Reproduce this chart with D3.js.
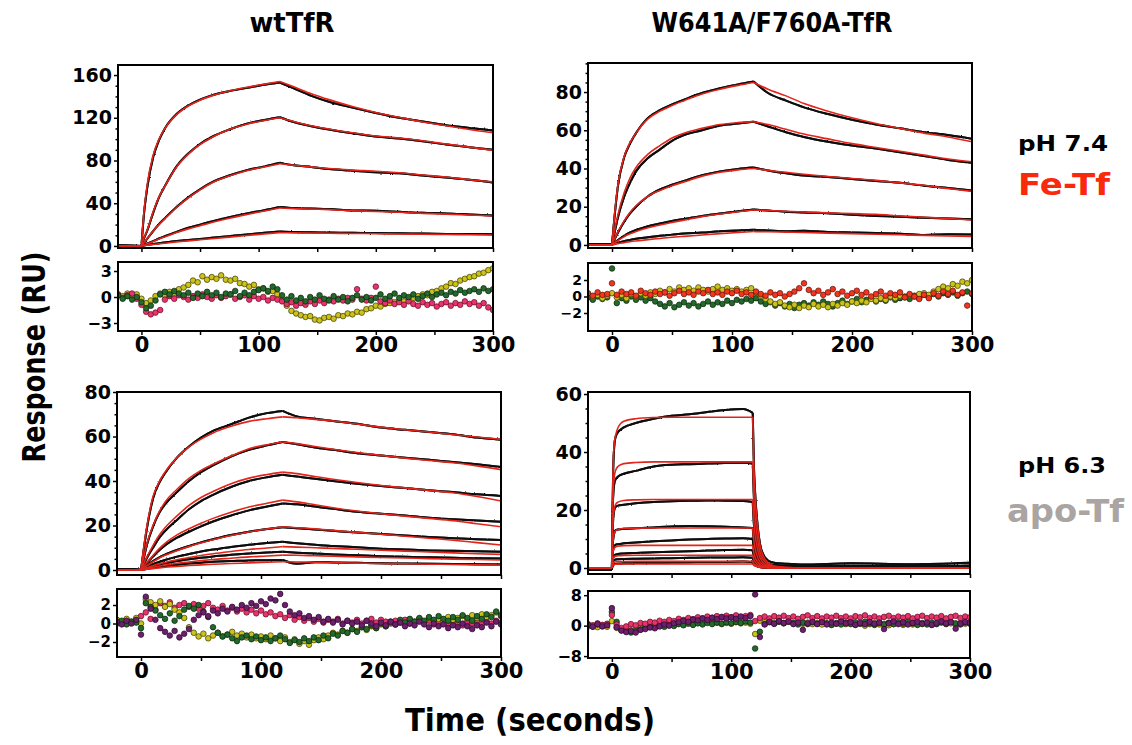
<!DOCTYPE html>
<html>
<head>
<meta charset="utf-8">
<script src="https://cdn.jsdelivr.net/npm/d3@7"></script>
<style>
  body { margin: 0; background: #fff; }
  text { font-family: "DejaVu Sans", sans-serif; font-weight: bold; }
</style>
</head>
<body>
<svg id="fig" width="1132" height="745"></svg>
<script>
// ---- sampling times (s) ----
const timeA = [-20, 0, 2, 5, 10, 15, 20, 30, 40, 50, 60, 75, 90, 105, 118, 130, 145, 160, 180, 200, 220, 240, 260, 280, 300];
const timeB = [-20, 0, 0.5, 1, 2, 3, 5, 10, 20, 35, 50, 65, 80, 95, 110, 118, 119, 120, 122, 124, 127, 131, 136, 145, 160, 200, 250, 300];
const resTime = [-20, -16, -12, -8, -4,
  0, 4, 8, 12, 16, 20, 24, 28, 32, 36, 40, 44, 48, 52, 56, 60, 64, 68, 72, 76,
  80, 84, 88, 92, 96, 100, 104, 108, 112, 116, 120, 124, 128, 132, 136, 140, 144, 148, 152, 156,
  160, 164, 168, 172, 176, 180, 184, 188, 192, 196, 200, 204, 208, 212, 216, 220, 224, 228, 232, 236,
  240, 244, 248, 252, 256, 260, 264, 268, 272, 276, 280, 284, 288, 292, 296, 300];

// ---- wtTfR, pH 7.4, Fe-Tf ----
const wt74Fit = [
  [0, 0, 30, 58, 85, 100, 110, 123, 131, 136.5, 140.5, 145, 148.5, 151.5, 154, 149, 142.5, 137, 130.5, 125, 120.5, 116, 112.5, 109, 106],
  [0, 0, 7, 15, 32, 46, 56, 74, 86, 95, 101.5, 109, 114, 117.5, 120, 116.5, 112.5, 109.5, 106, 103, 101, 98.5, 95.5, 92.5, 89.5],
  [0, 0, 2.8, 7, 14, 20, 25.5, 36, 45, 52.5, 59, 65.5, 70.5, 74, 77, 75.5, 74, 72.5, 71, 70, 68.5, 66.5, 64.5, 62, 60],
  [0, 0, 0.8, 2, 4.2, 6.5, 8.5, 12.5, 16, 19, 22, 26, 29.5, 32.8, 35.5, 35, 34.5, 34, 33, 32.3, 31.5, 30.5, 29.8, 29, 28],
  [0, 0, 0.3, 0.7, 1.4, 2, 2.6, 3.8, 4.8, 5.8, 6.8, 8.3, 9.8, 11.3, 12.5, 12.3, 12.1, 11.9, 11.7, 11.5, 11.2, 11, 10.8, 10.5, 10.3]
];
const wt74Data = [
  [0.4, 0, 28, 55, 83, 99, 110, 123.5, 131.5, 137, 141, 145, 148, 151, 153, 147.5, 140.5, 135, 129.5, 124.5, 120, 116.5, 113, 110.5, 108],
  [0.3, 0, 6.5, 14.5, 31, 45.5, 56, 74.5, 86.5, 95.5, 102, 109, 114.5, 118, 120.5, 116, 112, 109, 105.5, 102.5, 100.5, 98, 95, 92.5, 90],
  [0.2, 0, 2.5, 6.8, 14, 20.5, 26, 36.5, 45.5, 53, 59.5, 66, 71, 74.5, 78, 75.5, 74, 72, 70.5, 69, 68, 66, 64, 62, 59.5],
  [0.3, 0, 1, 2.3, 4.5, 7, 9.2, 13.2, 17, 20, 23, 27, 30.5, 33.5, 36.5, 35.5, 35, 34.5, 33.3, 33, 32, 31, 30.5, 29.5, 28.5],
  [0.2, 0, 0.5, 1, 1.8, 2.6, 3.3, 4.6, 5.6, 6.6, 7.6, 9.2, 10.8, 12.3, 13.5, 13, 12.8, 12.6, 12.3, 12.2, 11.8, 11.6, 11.3, 11.2, 11]
];
const wt74ResYellow = [0.3, 0.1, 0.4, 0.0, 0.3,
  -0.2, -0.7, -0.4, 0.1, 0.4, 0.2, 0.6, 0.5, 0.9, 1.1, 1.4, 1.9, 1.7, 2.4, 2.0, 2.3, 2.1, 2.5, 2.0, 1.9,
  2.1, 1.6, 1.5, 1.2, 1.4, 0.9, 1.0, 0.6, 0.7, 0.3, -0.4, -1.0, -1.6, -1.9, -2.1, -2.3, -2.2, -2.6, -2.7, -2.4,
  -2.3, -2.5, -2.1, -2.2, -1.9, -2.0, -1.7, -1.8, -1.4, -1.3, -1.0, -1.1, -0.8, -0.7, -0.6, -0.4, -0.5, -0.2, -0.1, 0.1,
  0.3, 0.2, 0.6, 0.7, 1.0, 1.2, 1.6, 1.5, 1.9, 2.1, 2.3, 2.4, 2.7, 2.8, 3.1, 3.3];
const wt74ResPink = [0.3, -0.1, 0.2, 0.4, -0.2,
  -0.9, -1.7, -2.0, -1.8, -1.5, -0.3, 0.1, -0.2, 0.2, 0.0, -0.3, 0.1, -0.1, 0.3, 0.0, -0.2, 0.2, -0.1, 0.1, 0.3,
  -0.2, 0.0, 0.2, -0.3, 0.1, -0.2, 0.0, -0.4, -0.1, -0.3, -0.5, -0.8, -0.6, -1.0, -0.7, -0.9, -0.5, -0.8, -0.4, -0.7,
  -0.3, -0.5, -0.2, -0.4, -0.1, -0.3, 0.9, -0.2, -0.4, -0.1, 1.2, -0.5, -0.7, -0.4, -0.8, -0.6, -0.9, -0.5, -0.8, -1.0,
  -0.6, -0.9, -0.7, -1.1, -0.8, -0.6, -1.0, -0.7, -0.9, -0.5, -0.8, -0.6, -1.0, -0.7, -1.2, -1.5];
const wt74ResGreen = [0.2, -0.2, 0.1, -0.3, 0.0,
  -0.6, -1.3, -1.0, -0.4, 0.3, 0.6, 0.3, 0.7, 0.4, 0.2, 0.5, -0.1, 0.4, 0.1, 0.6, 0.2, 0.5, 0.0, 0.4, 0.3,
  0.7, 0.1, 0.5, 0.2, 0.6, 0.8, 1.0, 0.7, 1.2, 0.9, 0.2, -0.3, 0.1, -0.4, -0.1, -0.5, 0.0, -0.3, 0.2, -0.2,
  -0.4, 0.1, -0.3, 0.0, -0.5, -0.1, 0.2, -0.3, 0.0, -0.4, -0.1, 0.3, -0.2, 0.1, 0.4, -0.1, 0.2, 0.0, 0.3, -0.2,
  0.1, 0.4, 0.0, 0.3, 0.5, 0.2, 0.6, 0.4, 0.8, 0.5, 0.7, 0.9, 0.6, 1.0, 0.7, 0.9];

// ---- W641A/F760A-TfR, pH 7.4, Fe-Tf ----
const mut74Fit = [
  [0, 0, 15, 32, 46, 53.5, 58.5, 66, 70, 73, 75.5, 79, 81.5, 83.5, 85, 81.5, 78, 74, 70, 66.5, 63.5, 61, 58.5, 56.5, 54],
  [0, 0, 7, 16, 27, 35, 40.5, 47.5, 52, 56, 58.5, 61, 63, 64, 64.5, 63, 60.5, 58, 55.5, 53, 51, 49, 47, 45, 43.5],
  [0, 0, 3, 7, 12.5, 17, 20.5, 25.5, 28.5, 31, 33, 36, 38, 39.3, 40, 39, 38, 37, 35.8, 34.8, 33.8, 32.5, 31.2, 29.5, 28],
  [0, 0, 1, 2.3, 4.3, 5.8, 7, 9, 10.5, 11.8, 13, 14.8, 16.2, 17.4, 18.3, 18, 17.6, 17.2, 16.8, 16.4, 16, 15.2, 14.5, 13.8, 13],
  [0, 0, 0.3, 0.7, 1.2, 1.7, 2.1, 2.8, 3.4, 4, 4.5, 5.2, 5.9, 6.5, 7, 6.9, 6.7, 6.5, 6.2, 5.9, 5.6, 5.3, 5, 4.7, 4.4]
];
const mut74Data = [
  [0.5, 0.3, 14, 31, 45.5, 53, 58.5, 66.5, 70.5, 73.5, 76, 79.5, 82, 84, 85.5, 79.5, 75.5, 72, 68.5, 65.5, 63, 61, 59, 57.5, 55.5],
  [0.4, 0.3, 6, 14.5, 25, 32.5, 38.5, 45.5, 50, 54.5, 57.5, 60, 62.5, 63.5, 64.5, 62, 59, 56.5, 54, 52, 50.5, 48.5, 46.5, 44.5, 43],
  [0.3, 0.2, 2.8, 6.5, 12, 16.5, 20, 25.5, 29, 31.5, 33.5, 36.5, 38.5, 39.8, 40.5, 39, 37.5, 36.3, 35.5, 34.5, 33.5, 32.5, 31, 29.8, 28.5],
  [0.3, 0.2, 1.2, 2.6, 4.8, 6.5, 7.8, 9.8, 11.2, 12.5, 13.6, 15.2, 16.5, 17.6, 18.5, 18, 17.4, 17, 16.6, 15.8, 15.2, 14.8, 14.2, 13.8, 13.5],
  [0.3, 0.2, 0.6, 1.2, 2, 2.6, 3.2, 4, 4.8, 5.4, 6, 6.5, 7.2, 7.6, 8, 7.5, 7.2, 7.4, 6.8, 6.5, 6.2, 5.9, 5.2, 5.6, 5.5]
];
const mut74ResYellow = [0.3, 0.0, 0.2, -0.2, 0.1,
  0.4, -0.1, 0.2, -0.2, 0.3, 0.0, 0.4, 0.1, 0.5, 0.3, 0.7, 0.5, 0.9, 0.6, 1.1, 0.8, 1.0, 0.7, 1.1, 0.8,
  0.6, 0.9, 1.2, 0.8, 1.0, 0.7, 0.9, 0.6, 0.8, 1.0, 0.5, 0.1, -0.3, -0.6, -0.9, -0.7, -1.1, -1.3, -1.0, -1.4,
  -1.1, -1.3, -0.9, -1.2, -1.0, -1.3, -0.9, -1.1, -0.8, -1.0, -0.6, -0.8, -0.5, -0.7, -0.3, -0.5, -0.2, -0.4, 0.0, -0.2,
  0.1, -0.1, 0.2, 0.0, 0.3, 0.4, 0.2, 0.6, 0.9, 1.2, 1.0, 1.5, 1.3, 1.8, 1.6, 2.0];
const mut74ResGreen = [-0.1, -0.4, 0.0, -0.3, -0.1,
  3.4, -0.8, -0.2, -0.5, 0.0, -0.4, -0.1, -0.5, -0.2, -0.6, -0.9, -1.2, -0.8, -1.3, -1.0, -0.7, -1.1, -0.8, -1.2, -0.9,
  -0.6, -1.0, -0.7, -0.9, -0.5, -0.8, -0.4, -0.6, -0.3, -0.5, -0.2, -0.6, -0.9, -0.7, -1.1, -0.8, -1.2, -0.9, -1.4, -1.0,
  -0.8, -1.1, -0.7, -1.0, -0.6, -0.9, -1.2, -0.8, -0.5, -0.9, -0.6, -0.3, -0.7, -0.4, -0.2, -0.6, -0.3, -0.5, -0.1, -0.4,
  -0.2, 0.0, -0.3, 0.1, -0.2, 0.2, -0.1, 0.3, 0.0, 0.4, 0.2, 0.5, 0.1, 0.4, 0.6, 0.3];
const mut74ResRed = [0.4, 0.1, 0.5, 0.2, 0.3,
  1.6, 0.2, 0.6, 0.3, 0.5, 0.1, 0.7, 0.4, 0.2, 0.6, 0.3, 0.5, 0.1, 0.4, 0.7, 0.3, 0.5, 0.2, 0.6, 0.4,
  0.8, 0.3, 0.5, 0.2, 0.6, 0.4, 0.7, 0.3, 0.5, 0.2, 0.6, 0.3, 0.1, 0.5, 0.2, 0.4, 0.0, 0.3, 0.6, 1.0,
  1.6, 0.8, 0.4, 0.7, 0.2, 0.5, 0.9, 0.3, 0.6, 0.1, 0.4, 0.7, 0.2, 0.5, 0.0, 0.3, 0.6, 0.1, 0.4, 0.2,
  0.5, -0.1, 0.3, 0.0, -0.3, 0.2, -0.2, 0.4, 0.1, 0.6, 0.3, 0.7, 0.2, 0.5, -1.1, 0.4];

// ---- wtTfR, pH 6.3, apo-Tf ----
const wt63Fit = [
  [0, 0, 9, 20, 33, 39.5, 44, 50.5, 55.3, 58.8, 61.6, 64.6, 66.8, 68, 68.8, 68.4, 67.7, 67, 65.6, 64.2, 63, 62, 60.9, 59.8, 58.7],
  [0, 0, 5, 12, 20, 26, 30.5, 36.3, 41.2, 44.8, 47.5, 51.2, 54.5, 56.3, 57.5, 56.8, 55.5, 54.3, 52.8, 51.5, 50.3, 49.2, 48.2, 46.8, 45.1],
  [0, 0, 2.5, 6, 11, 15.5, 19, 24.3, 29, 32.6, 35.3, 38.8, 41.3, 42.9, 44, 43.3, 42, 40.8, 39.3, 38, 36.9, 35.8, 34.7, 33, 31],
  [0, 0, 1.4, 3.4, 6.5, 9.5, 12, 15.8, 18.5, 21, 23.2, 26, 28.3, 30, 31.4, 30.6, 29.3, 28, 26.5, 25.3, 24.2, 23.2, 22.2, 20.8, 19.4],
  [0, 0, 0.8, 2, 3.7, 5.3, 6.6, 8.7, 10.5, 12.1, 13.6, 15.5, 17.1, 18.4, 19.4, 19, 18.5, 17.8, 16.9, 16.1, 15.2, 14.3, 13.4, 12.3, 11.2],
  [0, 0, 0.4, 1, 1.9, 2.7, 3.4, 4.6, 5.6, 6.5, 7.3, 8.3, 9.2, 9.9, 10.5, 10.3, 10, 9.7, 9.3, 8.9, 8.5, 8.1, 7.7, 7.3, 7],
  [0, 0, 0.25, 0.6, 1.2, 1.7, 2.2, 3, 3.6, 4.2, 4.7, 5.3, 5.9, 6.3, 6.7, 6.6, 6.4, 6.2, 5.9, 5.6, 5.4, 5.1, 4.9, 4.7, 4.5],
  [0, 0, 0.1, 0.3, 0.6, 0.9, 1.2, 1.6, 2, 2.3, 2.6, 2.9, 3.2, 3.5, 3.7, 3.6, 3.5, 3.3, 3.1, 2.9, 2.8, 2.6, 2.5, 2.3, 2.2]
];
const wt63Data = [
  [0.4, 0, 8, 19, 32, 39, 43.5, 50.5, 55.5, 59.5, 62.5, 65.5, 68.5, 70.5, 71.5, 69, 68, 67, 65.7, 64, 63, 62, 61, 59.5, 58.5],
  [0.4, 0, 4.5, 11.5, 19.5, 25.5, 29.5, 35, 40, 44, 47, 51, 54, 56, 57.5, 56.5, 55, 54, 52.5, 51.5, 50.5, 49.5, 48.5, 47.5, 46.3],
  [0.4, 0, 2.2, 5.5, 10, 14.3, 17.5, 22.5, 27.3, 31, 33.8, 37.3, 40, 41.7, 42.8, 42, 41, 40, 38.8, 37.7, 36.8, 35.8, 35, 34, 33.3],
  [0.4, 0, 1.3, 3.2, 6, 8.7, 11, 14.5, 17.2, 19.6, 21.8, 24.5, 26.8, 28.5, 29.9, 29.5, 28.5, 27.5, 26.2, 25.3, 24.5, 23.5, 22.8, 22.2, 21.7],
  [0.4, 0, 0.9, 2.2, 4, 5.6, 6.9, 9, 10.8, 12.4, 13.8, 15.7, 17.2, 18.4, 19.2, 18.8, 18.2, 17.6, 16.8, 16.2, 15.5, 14.8, 14.3, 13.8, 13.5],
  [0.4, 0, 0.6, 1.4, 2.6, 3.6, 4.5, 6, 7.2, 8.3, 9.2, 10.3, 11.3, 12.1, 12.7, 12, 11.3, 10.8, 10.2, 9.6, 9.2, 8.8, 8.6, 8.4, 8.2],
  [0.4, 0, 0.4, 0.9, 1.7, 2.4, 3, 4, 4.8, 5.5, 6.1, 6.8, 7.4, 7.9, 8.2, 7.8, 7.4, 7, 6.6, 6.2, 5.9, 5.7, 5.5, 5.3, 5.2],
  [0.4, 0, 0.2, 0.5, 1, 1.4, 1.8, 2.4, 2.9, 3.3, 3.7, 4, 4.3, 4.4, 4.5, 2.8, 3.5, 3.4, 3.2, 3, 2.9, 2.8, 2.7, 2.6, 2.5]
];
const wt63ResPurple = [0.2, -0.1, 0.3, 0.0, 0.4,
  -1.2, 2.9, 1.6, 0.4, -0.5, -0.9, -1.3, -0.8, -1.5, -1.1, -0.6, 0.4, 0.9, 1.2, 0.8, 1.4, 1.1, 1.6, 1.3, 1.8,
  1.5, 2.0, 1.7, 2.2, 1.9, 2.4, 2.1, 2.7, 2.5, 3.2, 2.0, 1.3, 0.9, 1.1, 0.6, 0.8, 0.4, 0.7, 0.2, 0.5,
  0.1, 0.4, -0.1, 0.3, 0.0, 0.2, -0.2, 0.3, 0.0, -0.3, 0.1, -0.2, 0.2, -0.1, 0.1, -0.3, 0.0, -0.2, 0.2, -0.1,
  -0.4, 0.0, -0.3, -0.1, -0.5, -0.2, -0.4, 0.0, -0.3, -0.6, -0.2, -0.4, 0.1, -0.3, 0.2, -0.1];
const wt63ResYellow = [0.4, 0.1, 0.5, 0.2, 0.6,
  0.0, 2.6, 2.3, 2.0, 2.4, 1.8, 2.1, 1.5, 1.2, 0.6, -0.4, -1.0, -1.4, -1.1, -1.6, -1.3, -1.0, -1.4, -1.2, -0.9,
  -1.3, -1.1, -1.5, -1.2, -1.6, -1.4, -1.7, -1.3, -1.6, -1.9, -1.5, -2.0, -1.7, -2.2, -1.9, -2.3, -1.8, -1.5, -1.7, -1.3,
  -1.0, -1.2, -0.8, -1.0, -0.6, -0.8, -0.4, -0.7, -0.3, -0.5, -0.1, -0.3, 0.1, -0.1, 0.3, 0.0, 0.4, 0.1, 0.5, 0.2,
  0.6, 0.3, 0.5, 0.2, 0.7, 0.4, 0.6, 0.8, 0.5, 0.9, 0.6, 1.0, 0.7, 0.9, 1.2, 0.8];
const wt63ResGreen = [0.0, 0.3, -0.1, 0.2, 0.1,
  -0.5, 2.2, 1.8, 1.4, 0.9, 0.5, 1.1, 0.3, 0.8, 1.5, 1.9, 1.6, 2.0, 1.3, 0.7, -0.4, -1.0, -1.4, -1.2, -1.6,
  -1.9, -1.5, -1.3, -1.7, -1.4, -1.8, -1.5, -1.9, -1.6, -1.3, -1.7, -2.1, -1.8, -2.0, -1.6, -1.9, -1.5, -1.8, -1.3, -1.6,
  -1.1, -1.3, -0.8, -1.0, -0.6, -0.9, -0.4, -0.6, -0.2, -0.5, 0.0, -0.3, 0.2, -0.1, 0.4, 0.1, 0.5, 0.2, 0.6, 0.3,
  0.7, 0.4, 0.8, 0.5, 0.3, 0.7, 0.4, 0.9, 0.6, 0.3, 0.8, 0.5, 1.0, 0.7, 1.3, 0.9];
const wt63ResPink = [0.3, 0.0, 0.4, 0.1, 0.3,
  0.8, 1.2, 0.5, 1.5, 2.2, 1.9, 2.3, 1.7, 2.0, 2.2, 1.8, 2.1, 1.6, 1.9, 2.2, 1.7, 1.5, 1.9, 1.4, 1.7,
  1.3, 1.6, 1.2, 1.5, 1.1, 1.4, 1.0, 1.2, 0.8, 1.0, 0.6, 0.9, 0.4, 0.7, 0.3, 0.6, 0.2, 0.5, 0.1, 0.4,
  0.2, 0.5, 0.0, 0.3, 0.1, 0.4, 0.0, 0.3, 0.5, 0.1, 0.4, 0.2, 0.0, 0.3, 0.1, 0.4, 0.0, 0.2, 0.5, 0.1,
  0.3, -0.1, 0.2, 0.4, 0.0, 0.3, 0.1, -0.2, 0.2, 0.0, 0.3, -0.1, 0.2, 0.0, 0.3, 0.1];

// ---- W641A/F760A-TfR, pH 6.3, apo-Tf ----
const mut63Fit = [
  [0, 0, 20, 34, 43, 45.5, 48.3, 50.6, 51.5, 51.9, 52, 52, 52, 52, 52, 52, 34, 25, 14.5, 8, 4, 1.8, 0.7, 0.2, 0, 0, 0, 0],
  [0, 0, 15, 26, 31.5, 33.5, 35, 36, 36.4, 36.6, 36.6, 36.6, 36.6, 36.6, 36.6, 36.6, 24, 17.5, 10, 5.6, 2.8, 1.3, 0.5, 0.15, 0, 0, 0, 0],
  [0, 0, 10, 17, 20.5, 21.8, 22.7, 23.3, 23.5, 23.6, 23.6, 23.6, 23.6, 23.6, 23.6, 23.6, 15.5, 11.3, 6.5, 3.6, 1.8, 0.8, 0.3, 0.1, 0, 0, 0, 0],
  [0, 0, 6, 10, 12, 12.8, 13.3, 13.6, 13.75, 13.8, 13.8, 13.8, 13.8, 13.8, 13.8, 13.8, 9, 6.6, 3.8, 2.1, 1.1, 0.5, 0.2, 0.05, 0, 0, 0, 0],
  [0, 0, 3.3, 5.6, 6.8, 7.2, 7.5, 7.7, 7.8, 7.8, 7.8, 7.8, 7.8, 7.8, 7.8, 7.8, 5.1, 3.7, 2.2, 1.2, 0.6, 0.3, 0.1, 0, 0, 0, 0, 0],
  [0, 0, 1.9, 3.2, 3.8, 4.1, 4.2, 4.35, 4.4, 4.4, 4.4, 4.4, 4.4, 4.4, 4.4, 4.4, 2.9, 2.1, 1.2, 0.7, 0.35, 0.15, 0.05, 0, 0, 0, 0, 0],
  [0, 0, 1, 1.7, 2, 2.1, 2.2, 2.25, 2.3, 2.3, 2.3, 2.3, 2.3, 2.3, 2.3, 2.3, 1.5, 1.1, 0.65, 0.35, 0.18, 0.08, 0.03, 0, 0, 0, 0, 0],
  [0, 0, 0.6, 1, 1.2, 1.3, 1.35, 1.38, 1.4, 1.4, 1.4, 1.4, 1.4, 1.4, 1.4, 1.4, 0.9, 0.65, 0.4, 0.2, 0.1, 0.05, 0, 0, 0, 0, 0, 0]
];
const mut63Data = [
  [-0.6, -0.5, 18, 32, 42, 45, 46.8, 48.5, 50, 51.5, 52.5, 53, 53.8, 54.5, 54.8, 53.5, 35, 26, 15, 8.5, 4.5, 2.5, 1.8, 1.5, 1.2, 1.6, 1.3, 1.8],
  [-0.5, -0.5, 14, 24, 29, 30.5, 31.5, 32.5, 33.5, 35, 35.6, 35.8, 36, 36.2, 36.3, 36, 24, 17.5, 10.2, 5.8, 3, 1.6, 1, 0.8, 0.6, 0.8, 0.6, 0.9],
  [-0.5, -0.5, 9, 16, 20, 21, 21.5, 21.8, 22.3, 22.8, 23, 23.2, 23.3, 23.2, 23.1, 22.8, 15, 11, 6.3, 3.5, 1.9, 1, 0.6, 0.5, 0.4, 0.6, 0.5, 0.7],
  [-0.5, -0.5, 5.5, 9.5, 12, 13, 13.3, 13.5, 13.7, 14, 14.3, 14.5, 14.4, 14.2, 14, 13.8, 9, 6.6, 3.8, 2.1, 1.1, 0.6, 0.4, 0.3, 0.3, 0.5, 0.4, 0.6],
  [-0.5, -0.5, 3.5, 6, 7.5, 8, 8.2, 8.5, 8.8, 9.2, 9.5, 9.8, 10, 10.2, 10.3, 10, 6.5, 4.7, 2.7, 1.5, 0.8, 0.4, 0.3, 0.2, 0.2, 0.4, 0.3, 0.5],
  [-0.5, -0.5, 2, 3.5, 4.3, 4.6, 4.8, 5, 5.2, 5.4, 5.6, 5.8, 6, 6.2, 6.3, 6.1, 4, 2.9, 1.7, 0.9, 0.5, 0.3, 0.2, 0.1, 0.1, 0.3, 0.2, 0.4],
  [-0.5, -0.5, 1.3, 2.2, 2.7, 2.9, 3, 3.1, 3.2, 3.3, 3.4, 3.5, 3.6, 3.6, 3.7, 3.5, 2.3, 1.7, 1, 0.5, 0.3, 0.1, 0.1, 0, 0, 0.2, 0.1, 0.3],
  [-0.5, -0.5, 0.6, 1, 1.3, 1.4, 1.5, 1.6, 1.7, 1.8, 1.9, 2, 2.1, 2.1, 2.2, 2, 1.3, 1, 0.6, 0.3, 0.1, 0, 0, 0, 0, 0.1, 0, 0.2]
];
const mut63ResPink = [0.4, 0.0, 0.6, 0.2, 0.5,
  2.8, 0.3, -0.6, -0.2, 0.4, 0.1, 0.7, 0.5, 1.0, 0.8, 1.3, 1.0, 1.5, 1.2, 1.8, 1.5, 2.0, 1.7, 2.2, 1.9,
  2.4, 2.0, 2.5, 2.1, 2.6, 2.2, 2.7, 2.3, 2.5, 2.8, 1.2, 2.0, 2.4, 1.9, 2.5, 2.1, 2.6, 2.0, 2.4, 1.8,
  2.3, 2.7, 2.0, 2.5, 1.9, 2.4, 2.1, 2.6, 2.0, 2.4, 1.9, 2.5, 2.2, 2.7, 2.0, 2.4, 1.9, 2.3, 2.6, 2.0,
  2.4, 2.1, 2.5, 1.9, 2.3, 2.6, 2.0, 2.4, 2.1, 2.5, 1.9, 2.3, 2.6, 2.0, 2.4, 2.2];
const mut63ResYellow = [-0.2, 0.1, -0.4, 0.0, -0.3,
  1.2, -0.6, -1.1, -0.8, -1.2, -0.9, -0.5, -0.2, 0.1, -0.1, 0.3, 0.0, 0.4, 0.2, 0.6, 0.3, 0.7, 0.4, 0.8, 0.5,
  0.9, 0.6, 0.8, 0.4, 0.7, 0.5, 0.9, 0.6, 0.8, 0.5, -2.2, 1.3, 0.9, 1.2, 0.8, 1.1, 0.7, 1.0, 0.6, 0.9,
  0.5, 0.8, 0.4, 0.7, 0.3, 0.6, 0.2, 0.5, 0.8, 0.4, 0.6, 0.2, 0.5, 0.0, 0.4, 0.7, 0.3, 0.5, 0.1, 0.4,
  0.6, 0.2, 0.5, 0.3, 0.7, 0.4, 0.6, 0.2, 0.5, 0.8, 0.4, 0.6, 0.3, 0.7, 0.5, 0.8];
const mut63ResGreen = [0.1, -0.2, 0.3, -0.1, 0.2,
  3.6, 1.0, -1.2, -1.5, -1.8, -1.4, -1.0, -0.6, -0.3, -0.5, 0.0, -0.3, 0.2, -0.1, 0.4, 0.1, 0.5, 0.2, 0.6, 0.3,
  0.7, 0.4, 0.8, 0.5, 0.9, 0.6, 1.0, 0.7, 1.1, 0.8, -6.0, -1.6, 0.4, 0.9, 0.5, 1.0, 0.6, 1.1, 0.7, 0.3,
  0.8, 0.4, 0.9, 0.5, 1.0, 0.6, 0.2, 0.7, 0.3, 0.8, 0.4, 0.9, 0.5, 1.0, 0.6, 0.2, 0.7, 0.3, 0.8, 0.4,
  0.9, 0.5, 1.0, 0.6, 0.2, 0.7, 0.3, 0.8, 0.4, 0.9, 0.5, 1.0, 0.6, 0.3, 0.8, 0.5];
const mut63ResPurple = [0.2, -0.3, 0.4, -0.2, 0.1,
  4.6, -0.4, -1.3, -1.7, -1.4, -1.8, -1.1, -0.9, -0.5, -0.7, -0.2, 0.3, 0.0, 0.6, 0.9, 1.3, 1.0, 1.6, 1.4, 1.9,
  1.5, 2.1, 1.7, 2.3, 1.9, 2.2, 1.8, 2.4, 2.0, 2.5, 8.2, -3.0, 0.3, 1.0, 0.5, 1.2, 0.7, 1.1, 0.4, 0.8,
  -1.1, 0.6, 1.0, 0.4, 0.9, 0.3, 0.8, 0.5, 1.1, 0.6, 0.9, 0.2, 0.7, 0.4, 1.0, 0.5, 0.8, -0.9, 0.6, 1.1,
  0.4, 0.9, 0.3, 0.7, 1.0, 0.5, 0.8, 0.2, 0.7, 1.1, 0.6, 0.9, -0.8, 0.5, 1.0, 0.7];

// ---- tick labels ----
const xTickValues = [0, 50, 100, 150, 200, 250, 300];
const xLabelValues = [0, 100, 200, 300];

// ---- styles ----
const dotColors = {
  yellow: ['#cbc21a', '#3b3800'],
  green:  ['#23692c', '#0a240c'],
  pink:   ['#e8336c', '#5a0f22'],
  red:    ['#f2351e', '#5a1208'],
  purple: ['#6c1f6c', '#2a082a']
};
const FIT_RED = '#e3241b';

const panels = [
  { x0: 118, x1: 493, top: 65, bottom: 248, yDomain: [-1.9, 169.4], yTicks: [0, 40, 80, 120, 160], minorStep: 10,
    times: timeA, fit: wt74Fit, data: wt74Data,
    res: { top: 262, bottom: 331, domain: [-3.92, 4.04], ticks: [-3, 0, 3], font: 16,
      series: [['yellow', wt74ResYellow], ['pink', wt74ResPink], ['green', wt74ResGreen]] } },
  { x0: 588, x1: 972, top: 63, bottom: 248, yDomain: [-1.6, 95.2], yTicks: [0, 20, 40, 60, 80], minorStep: 5,
    times: timeA, fit: mut74Fit, data: mut74Data,
    res: { top: 263, bottom: 331, domain: [-4.18, 4.06], ticks: [-2, 0, 2], font: 14,
      series: [['green', mut74ResGreen], ['yellow', mut74ResYellow], ['red', mut74ResRed]] } },
  { x0: 117, x1: 501, top: 392, bottom: 575, yDomain: [-2.25, 80], yTicks: [0, 20, 40, 60, 80], minorStep: 5,
    times: timeA, fit: wt63Fit, data: wt63Data,
    res: { top: 589, bottom: 657, domain: [-3.62, 3.73], ticks: [-2, 0, 2], font: 15,
      series: [['pink', wt63ResPink], ['yellow', wt63ResYellow], ['green', wt63ResGreen], ['purple', wt63ResPurple]] } },
  { x0: 588, x1: 970, top: 392, bottom: 574, yDomain: [-2.07, 60.7], yTicks: [0, 20, 40, 60], minorStep: 5,
    times: timeB, fit: mut63Fit, data: mut63Data,
    res: { top: 591, bottom: 658, domain: [-8.5, 9.1], ticks: [-8, 0, 8], font: 16,
      series: [['yellow', mut63ResYellow], ['green', mut63ResGreen], ['pink', mut63ResPink], ['purple', mut63ResPurple]] } }
];
const phaseBreaks = [0, 118];

const svg = d3.select('#fig');
const defs = svg.append('defs');

// slight roughness on the recorded traces
const rough = defs.append('filter').attr('id', 'rough')
  .attr('filterUnits', 'userSpaceOnUse').attr('x', 0).attr('y', 0).attr('width', 1132).attr('height', 745);
rough.append('feTurbulence').attr('type', 'fractalNoise').attr('baseFrequency', 0.7)
  .attr('numOctaves', 1).attr('seed', 7).attr('result', 'noise');
rough.append('feDisplacementMap').attr('in', 'SourceGraphic').attr('in2', 'noise')
  .attr('scale', 2.2).attr('xChannelSelector', 'R').attr('yChannelSelector', 'G');

function styleAxis(g, size) {
  g.select('.domain').remove();
  g.selectAll('line').attr('stroke', '#000').attr('stroke-width', 1.5);
  g.selectAll('text').attr('fill', '#000').attr('font-size', size)
    .attr('font-family', '"DejaVu Sans", sans-serif').attr('font-weight', 'bold');
}

function splitPhases(times, vals) {
  const pts = times.map((t, i) => [t, vals[i]]);
  const cuts = [times[0], ...phaseBreaks, times[times.length - 1]];
  const segs = [];
  for (let k = 0; k < cuts.length - 1; k++) {
    segs.push(pts.filter(p => p[0] >= cuts[k] && p[0] <= cuts[k + 1]));
  }
  return segs;
}

panels.forEach((p, idx) => {
  const x = d3.scaleLinear().domain([-20, 300]).range([p.x0, p.x1]);
  const y = d3.scaleLinear().domain(p.yDomain).range([p.bottom, p.top]);

  // ---- sensorgram ----
  const clipId = 'clip' + idx;
  defs.append('clipPath').attr('id', clipId).append('rect')
    .attr('x', p.x0).attr('y', p.top).attr('width', p.x1 - p.x0).attr('height', p.bottom - p.top);

  const plot = svg.append('g').attr('clip-path', `url(#${clipId})`);
  const line = d3.line().x(d => x(d[0])).y(d => y(d[1])).curve(d3.curveMonotoneX);

  const traces = plot.append('g');
  const fuzz = plot.append('g').attr('filter', 'url(#rough)');
  p.data.forEach(vals => {
    splitPhases(p.times, vals).forEach(seg => {
      traces.append('path').attr('d', line(seg)).attr('fill', 'none')
        .attr('stroke', '#111').attr('stroke-width', 2).attr('stroke-linejoin', 'round');
      fuzz.append('path').attr('d', line(seg)).attr('fill', 'none')
        .attr('stroke', '#111').attr('stroke-width', 2).attr('stroke-linejoin', 'round');
    });
  });
  const fits = plot.append('g');
  p.fit.forEach(vals => {
    splitPhases(p.times, vals).forEach(seg => {
      fits.append('path').attr('d', line(seg)).attr('fill', 'none')
        .attr('stroke', FIT_RED).attr('stroke-width', 1.6).attr('stroke-linejoin', 'round');
    });
  });

  svg.append('rect').attr('x', p.x0).attr('y', p.top).attr('width', p.x1 - p.x0).attr('height', p.bottom - p.top)
    .attr('fill', 'none').attr('stroke', '#000').attr('stroke-width', 2);

  const minor = d3.range(0, p.yDomain[1], p.minorStep).filter(v => !p.yTicks.includes(v));
  svg.append('g').attr('transform', `translate(${p.x0},0)`)
    .call(d3.axisLeft(y).tickValues(minor).tickSize(2.5).tickFormat(''))
    .call(g => styleAxis(g, 19));
  svg.append('g').attr('transform', `translate(${p.x0},0)`)
    .call(d3.axisLeft(y).tickValues(p.yTicks).tickSize(4).tickPadding(2))
    .call(g => styleAxis(g, 19));
  svg.append('g').attr('transform', `translate(0,${p.bottom})`)
    .call(d3.axisBottom(x).tickValues(xTickValues).tickSize(4).tickFormat(''))
    .call(g => styleAxis(g, 21));

  // ---- residuals ----
  const r = p.res;
  const yr = d3.scaleLinear().domain(r.domain).range([r.bottom, r.top]);
  const rClip = 'rclip' + idx;
  defs.append('clipPath').attr('id', rClip).append('rect')
    .attr('x', p.x0).attr('y', r.top).attr('width', p.x1 - p.x0).attr('height', r.bottom - r.top);
  const rg = svg.append('g').attr('clip-path', `url(#${rClip})`);
  r.series.forEach(([name, vals]) => {
    const [fill, stroke] = dotColors[name];
    rg.append('g').selectAll('circle').data(vals).join('circle')
      .attr('cx', (d, i) => x(resTime[i])).attr('cy', d => yr(d)).attr('r', 2.8)
      .attr('fill', fill).attr('stroke', stroke).attr('stroke-width', 0.7);
  });
  svg.append('rect').attr('x', p.x0).attr('y', r.top).attr('width', p.x1 - p.x0).attr('height', r.bottom - r.top)
    .attr('fill', 'none').attr('stroke', '#000').attr('stroke-width', 2);
  svg.append('g').attr('transform', `translate(${p.x0},0)`)
    .call(d3.axisLeft(yr).tickValues(r.ticks).tickSize(4).tickPadding(2))
    .call(g => styleAxis(g, r.font));
  svg.append('g').attr('transform', `translate(0,${r.bottom})`)
    .call(d3.axisBottom(x).tickValues(xTickValues).tickSize(4).tickPadding(2)
      .tickFormat(d => xLabelValues.includes(d) ? d : ''))
    .call(g => styleAxis(g, 21));
});

// ---- titles and labels ----
function label(txt, xPos, yPos, size, len, color, anchor) {
  return svg.append('text').attr('x', xPos).attr('y', yPos).attr('font-size', size)
    .attr('fill', color || '#000').attr('text-anchor', anchor || 'middle')
    .attr('textLength', len).attr('lengthAdjust', 'spacingAndGlyphs').text(txt);
}
label('wtTfR', 292, 32, 26, 85);
label('W641A/F760A-TfR', 772, 32, 27, 241);
label('pH 7.4', 1018, 151, 22, 90, '#000', 'start');
label('Fe-Tf', 1018, 195, 30, 92, '#f9290c', 'start');
label('pH 6.3', 1018, 473, 22, 88, '#000', 'start');
label('apo-Tf', 1007, 522, 32, 117, '#aaa4a2', 'start');
label('Time (seconds)', 530, 731, 32, 250);
svg.append('text').attr('transform', 'translate(45,357) rotate(-90)')
  .attr('font-size', 32).attr('text-anchor', 'middle')
  .attr('textLength', 211).attr('lengthAdjust', 'spacingAndGlyphs').text('Response (RU)');
</script>
</body>
</html>
